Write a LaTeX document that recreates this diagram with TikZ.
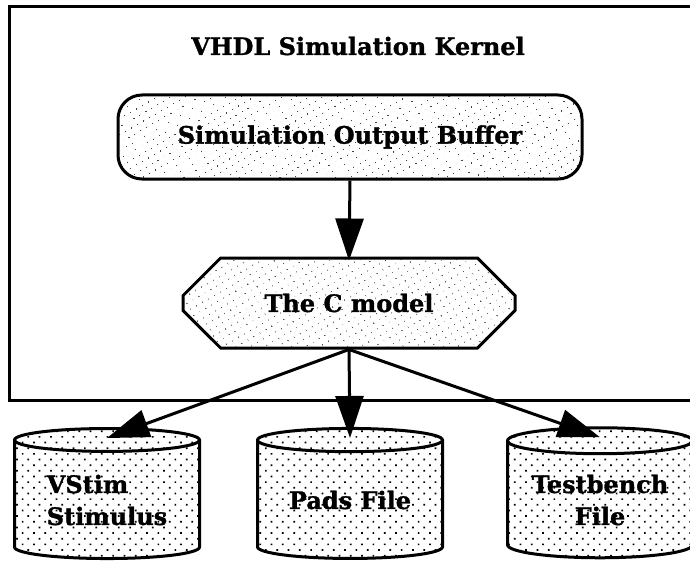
\documentclass[tikz,border=0pt]{standalone}
\usepackage{fontspec}
\setmainfont{DejaVu Serif}[BoldFeatures={FakeBold=1.2}]
\usetikzlibrary{arrows.meta,shapes.geometric,shapes.misc,patterns.meta}

\tikzset{
  lbl/.style={font=\bfseries\fontsize{24}{32}\selectfont, align=center},
  frame/.style={draw=black, line width=3pt},
  finedots/.style={preaction={fill=white},
    pattern={Dots[radius=0.5pt, distance=6.5pt, angle=30]}},
  coarsedots/.style={preaction={fill=white},
    pattern={Dots[radius=1.2pt, distance=8pt, angle=45]}},
  bufferbox/.style={frame, finedots, rounded corners=24pt, lbl,
    minimum width=464pt, minimum height=84pt},
  modelbox/.style={frame, finedots, chamfered rectangle,
    chamfered rectangle xsep=27pt, chamfered rectangle ysep=25pt,
    minimum width=332pt, minimum height=90pt, lbl},
  store/.style={frame, coarsedots, cylinder, shape border rotate=90,
    aspect=0.19, minimum width=185pt, minimum height=130pt, lbl,
    inner sep=0pt},
  flow/.style={line width=3pt, -{Triangle[length=42pt,width=28pt]}}
}

\begin{document}
\begin{tikzpicture}[x=1pt,y=-1pt]
  \useasboundingbox (0,0) rectangle (690,567);
  \clip (0,0) rectangle (690,567);

  % kernel frame, open past the right margin
  \node[frame, inner sep=0pt, minimum width=700pt, minimum height=394pt,
        anchor=north west] (kernel) at (8,5) {};
  \node[lbl] (title) at (358,46) {VHDL Simulation Kernel};

  \node[bufferbox] (buffer) at (350,137) {Simulation Output Buffer};
  \node[modelbox] (cmodel) at (349,303) {The C model};

  \node[store, align=left] (vstim) at (107,500) {VStim\\Stimulus};
  \node[store] (pads)  at (350,500) {Pads File};
  \node[store] (tb)    at (600,500) {Testbench\\File};

  \draw[flow] (buffer.south) -- ([yshift=-4pt]cmodel.north);
  \draw[flow] (cmodel.south) -- ([yshift=-11pt]vstim.north);
  \draw[flow] (cmodel.south) -- ([yshift=-11pt]pads.north);
  \draw[flow] (cmodel.south) -- ([yshift=-11pt]tb.north);
\end{tikzpicture}
\end{document}
